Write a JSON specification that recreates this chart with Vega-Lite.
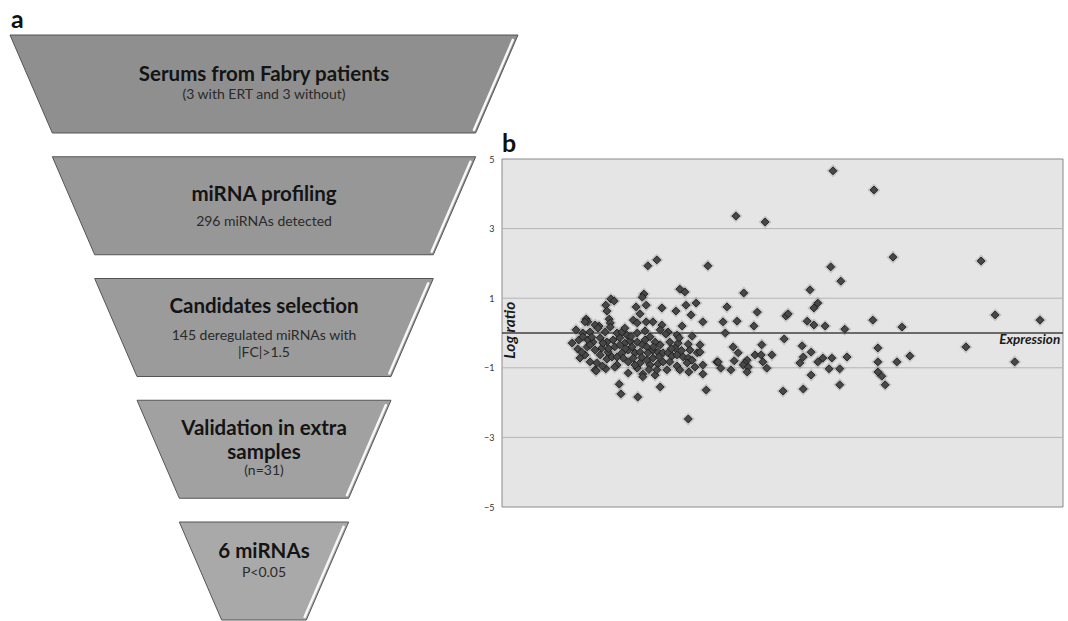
{
  "$schema": "https://vega.github.io/schema/vega-lite/v6.json",
  "width": 1068,
  "height": 621,
  "autosize": "none",
  "padding": 0,
  "background": "white",
  "config": {"view": {"stroke": null}, "font": "Lato"},
  "datasets": {
    "funnel": [
      {"stage": "Serums", "level": 0, "lo": -6, "hi": 6},
      {"stage": "Serums", "level": 0.805, "lo": -5, "hi": 5},
      {"stage": "Profiling", "level": 1, "lo": -5, "hi": 5},
      {"stage": "Profiling", "level": 1.805, "lo": -4, "hi": 4},
      {"stage": "Selection", "level": 2, "lo": -4, "hi": 4},
      {"stage": "Selection", "level": 2.805, "lo": -3, "hi": 3},
      {"stage": "Validation", "level": 3, "lo": -3, "hi": 3},
      {"stage": "Validation", "level": 3.805, "lo": -2, "hi": 2},
      {"stage": "Result", "level": 4, "lo": -2, "hi": 2},
      {"stage": "Result", "level": 4.805, "lo": -1, "hi": 1}
    ],
    "highlight": [
      {"stage": "Serums", "level": 0.04, "edge": 5.95},
      {"stage": "Serums", "level": 0.78, "edge": 5.03},
      {"stage": "Profiling", "level": 1.04, "edge": 4.95},
      {"stage": "Profiling", "level": 1.78, "edge": 4.03},
      {"stage": "Selection", "level": 2.04, "edge": 3.95},
      {"stage": "Selection", "level": 2.78, "edge": 3.03},
      {"stage": "Validation", "level": 3.04, "edge": 2.95},
      {"stage": "Validation", "level": 3.78, "edge": 2.03},
      {"stage": "Result", "level": 4.04, "edge": 1.95},
      {"stage": "Result", "level": 4.78, "edge": 1.03}
    ],
    "labels": [
      {"stage": "Serums", "level": 0.325, "text": "Serums from Fabry patients", "kind": "title"},
      {"stage": "Serums", "level": 0.493, "text": "(3 with ERT and 3 without)", "kind": "sub"},
      {"stage": "Profiling", "level": 1.318, "text": "miRNA profiling", "kind": "title"},
      {"stage": "Profiling", "level": 1.536, "text": "296 miRNAs detected", "kind": "sub"},
      {"stage": "Selection", "level": 2.238, "text": "Candidates selection", "kind": "title"},
      {"stage": "Selection", "level": 2.472, "text": "145 deregulated miRNAs with", "kind": "sub"},
      {"stage": "Selection", "level": 2.612, "text": "|FC|>1.5", "kind": "sub"},
      {"stage": "Validation", "level": 3.24, "text": "Validation in extra", "kind": "title"},
      {"stage": "Validation", "level": 3.432, "text": "samples", "kind": "title"},
      {"stage": "Validation", "level": 3.585, "text": "(n=31)", "kind": "sub"},
      {"stage": "Result", "level": 4.25, "text": "6 miRNAs", "kind": "title"},
      {"stage": "Result", "level": 4.415, "text": "P<0.05", "kind": "sub"}
    ],
    "grid": [{"ratio": 3}, {"ratio": 1}, {"ratio": -1}, {"ratio": -3}],
    "mirna": [
      {"expr": 59.0, "ratio": 4.66}, {"expr": 66.3, "ratio": 4.11}, {"expr": 41.7, "ratio": 3.36}, {"expr": 46.9, "ratio": 3.19},
      {"expr": 69.7, "ratio": 2.18}, {"expr": 85.4, "ratio": 2.07}, {"expr": 27.6, "ratio": 2.10}, {"expr": 26.0, "ratio": 1.93},
      {"expr": 36.7, "ratio": 1.93}, {"expr": 58.6, "ratio": 1.90}, {"expr": 60.4, "ratio": 1.49}, {"expr": 31.7, "ratio": 1.26},
      {"expr": 32.6, "ratio": 1.18}, {"expr": 54.9, "ratio": 1.24}, {"expr": 43.1, "ratio": 1.15}, {"expr": 25.3, "ratio": 1.12},
      {"expr": 25.0, "ratio": 1.03}, {"expr": 19.4, "ratio": 0.98}, {"expr": 20.0, "ratio": 0.92}, {"expr": 56.3, "ratio": 0.86},
      {"expr": 55.6, "ratio": 0.72}, {"expr": 34.6, "ratio": 0.86}, {"expr": 32.8, "ratio": 0.80}, {"expr": 25.7, "ratio": 0.80},
      {"expr": 18.5, "ratio": 0.80}, {"expr": 23.9, "ratio": 0.75}, {"expr": 28.5, "ratio": 0.72}, {"expr": 40.1, "ratio": 0.75},
      {"expr": 45.5, "ratio": 0.60}, {"expr": 31.0, "ratio": 0.63}, {"expr": 18.7, "ratio": 0.63}, {"expr": 24.6, "ratio": 0.55},
      {"expr": 33.7, "ratio": 0.52}, {"expr": 50.6, "ratio": 0.49}, {"expr": 51.0, "ratio": 0.55}, {"expr": 41.9, "ratio": 0.34},
      {"expr": 39.4, "ratio": 0.32}, {"expr": 35.8, "ratio": 0.32}, {"expr": 54.4, "ratio": 0.34}, {"expr": 87.9, "ratio": 0.52},
      {"expr": 95.9, "ratio": 0.37}, {"expr": 66.1, "ratio": 0.37}, {"expr": 15.0, "ratio": 0.40}, {"expr": 15.3, "ratio": 0.32},
      {"expr": 19.1, "ratio": 0.40}, {"expr": 23.4, "ratio": 0.37}, {"expr": 24.1, "ratio": 0.29}, {"expr": 25.7, "ratio": 0.32},
      {"expr": 26.9, "ratio": 0.32}, {"expr": 28.5, "ratio": 0.23}, {"expr": 32.1, "ratio": 0.20}, {"expr": 44.9, "ratio": 0.20},
      {"expr": 55.6, "ratio": 0.23}, {"expr": 57.6, "ratio": 0.20}, {"expr": 61.1, "ratio": 0.11}, {"expr": 71.3, "ratio": 0.17},
      {"expr": 13.2, "ratio": 0.09}, {"expr": 17.3, "ratio": 0.20}, {"expr": 19.3, "ratio": 0.29}, {"expr": 16.6, "ratio": 0.23},
      {"expr": 14.8, "ratio": 0.32},
      {"expr": 14.4, "ratio": 0.0}, {"expr": 15.7, "ratio": 0.03}, {"expr": 17.1, "ratio": 0.14}, {"expr": 18.4, "ratio": 0.03},
      {"expr": 19.3, "ratio": 0.17}, {"expr": 20.5, "ratio": 0.0}, {"expr": 21.4, "ratio": 0.03}, {"expr": 22.3, "ratio": -0.06},
      {"expr": 24.1, "ratio": 0.0}, {"expr": 25.5, "ratio": 0.06}, {"expr": 29.6, "ratio": 0.03}, {"expr": 29.2, "ratio": -0.03},
      {"expr": 31.2, "ratio": -0.06}, {"expr": 33.9, "ratio": -0.09}, {"expr": 12.5, "ratio": -0.29}, {"expr": 13.7, "ratio": -0.20},
      {"expr": 14.4, "ratio": -0.11}, {"expr": 15.3, "ratio": -0.20}, {"expr": 16.2, "ratio": -0.26}, {"expr": 17.5, "ratio": -0.14},
      {"expr": 18.7, "ratio": -0.26}, {"expr": 19.8, "ratio": -0.20}, {"expr": 21.0, "ratio": -0.14}, {"expr": 21.9, "ratio": -0.29},
      {"expr": 22.8, "ratio": -0.23}, {"expr": 24.1, "ratio": -0.26}, {"expr": 25.0, "ratio": -0.34}, {"expr": 25.8, "ratio": -0.40},
      {"expr": 27.3, "ratio": -0.26}, {"expr": 29.9, "ratio": -0.26}, {"expr": 31.4, "ratio": -0.29}, {"expr": 31.6, "ratio": -0.14},
      {"expr": 33.2, "ratio": -0.32}, {"expr": 26.9, "ratio": -0.49}, {"expr": 13.5, "ratio": -0.46}, {"expr": 15.2, "ratio": -0.40},
      {"expr": 16.6, "ratio": -0.49}, {"expr": 17.8, "ratio": -0.43}, {"expr": 18.9, "ratio": -0.55}, {"expr": 20.1, "ratio": -0.40},
      {"expr": 21.4, "ratio": -0.57}, {"expr": 22.5, "ratio": -0.49}, {"expr": 23.7, "ratio": -0.57}, {"expr": 24.6, "ratio": -0.55},
      {"expr": 26.0, "ratio": -0.57}, {"expr": 27.8, "ratio": -0.55}, {"expr": 28.7, "ratio": -0.57}, {"expr": 29.6, "ratio": -0.57},
      {"expr": 30.3, "ratio": -0.66}, {"expr": 31.2, "ratio": -0.63}, {"expr": 32.3, "ratio": -0.69}, {"expr": 33.2, "ratio": -0.72},
      {"expr": 34.8, "ratio": -0.57}, {"expr": 13.9, "ratio": -0.72}, {"expr": 15.7, "ratio": -0.83}, {"expr": 16.9, "ratio": -0.86},
      {"expr": 18.7, "ratio": -0.75}, {"expr": 20.5, "ratio": -0.92}, {"expr": 21.6, "ratio": -0.72}, {"expr": 22.5, "ratio": -0.83},
      {"expr": 23.4, "ratio": -0.72}, {"expr": 24.6, "ratio": -0.86}, {"expr": 25.8, "ratio": -0.78}, {"expr": 26.9, "ratio": -0.72},
      {"expr": 27.8, "ratio": -0.89}, {"expr": 28.7, "ratio": -0.83}, {"expr": 29.9, "ratio": -0.83}, {"expr": 31.2, "ratio": -0.95},
      {"expr": 33.0, "ratio": -0.86}, {"expr": 33.9, "ratio": -0.78}, {"expr": 34.4, "ratio": -0.98}, {"expr": 35.8, "ratio": -0.92},
      {"expr": 38.3, "ratio": -0.83}, {"expr": 16.6, "ratio": -1.06}, {"expr": 18.5, "ratio": -1.03}, {"expr": 20.1, "ratio": -0.98},
      {"expr": 22.5, "ratio": -1.15}, {"expr": 24.1, "ratio": -1.01}, {"expr": 25.1, "ratio": -1.18}, {"expr": 25.1, "ratio": -1.26},
      {"expr": 27.3, "ratio": -1.21}, {"expr": 27.6, "ratio": -1.06}, {"expr": 29.4, "ratio": -1.06}, {"expr": 31.7, "ratio": -1.06},
      {"expr": 33.3, "ratio": -1.12}, {"expr": 35.8, "ratio": -1.18}, {"expr": 20.9, "ratio": -1.47}, {"expr": 21.2, "ratio": -1.75},
      {"expr": 24.2, "ratio": -1.84}, {"expr": 28.2, "ratio": -1.55}, {"expr": 36.4, "ratio": -1.64}, {"expr": 33.2, "ratio": -2.47},
      {"expr": 16.8, "ratio": -1.09}, {"expr": 14.8, "ratio": -0.63}, {"expr": 17.5, "ratio": -0.63}, {"expr": 19.6, "ratio": -0.69},
      {"expr": 23.2, "ratio": -0.40}, {"expr": 25.5, "ratio": -0.20}, {"expr": 28.2, "ratio": -0.34}, {"expr": 30.8, "ratio": -0.43},
      {"expr": 15.7, "ratio": -0.34}, {"expr": 21.0, "ratio": -0.34}, {"expr": 26.4, "ratio": -0.92}, {"expr": 23.7, "ratio": -0.92},
      {"expr": 21.9, "ratio": 0.14}, {"expr": 18.0, "ratio": -0.29}, {"expr": 20.5, "ratio": -0.69}, {"expr": 28.2, "ratio": 0.09},
      {"expr": 26.4, "ratio": -0.11}, {"expr": 33.5, "ratio": -0.49}, {"expr": 35.3, "ratio": -0.34}, {"expr": 35.3, "ratio": -0.55},
      {"expr": 14.2, "ratio": -0.55}, {"expr": 16.0, "ratio": -0.12}, {"expr": 19.0, "ratio": -0.45}, {"expr": 22.0, "ratio": -0.45},
      {"expr": 23.0, "ratio": -0.10}, {"expr": 24.9, "ratio": -0.70}, {"expr": 27.0, "ratio": -0.40}, {"expr": 28.0, "ratio": -0.68},
      {"expr": 30.2, "ratio": -0.45}, {"expr": 32.0, "ratio": -0.50}, {"expr": 17.9, "ratio": -0.95}, {"expr": 26.2, "ratio": -1.05},
      {"expr": 39.8, "ratio": 0.0}, {"expr": 50.3, "ratio": -0.17}, {"expr": 53.5, "ratio": -0.37}, {"expr": 41.2, "ratio": -0.40},
      {"expr": 46.3, "ratio": -0.34}, {"expr": 42.1, "ratio": -0.57}, {"expr": 55.1, "ratio": -0.55}, {"expr": 45.1, "ratio": -0.63},
      {"expr": 46.2, "ratio": -0.63}, {"expr": 48.1, "ratio": -0.63}, {"expr": 53.7, "ratio": -0.69}, {"expr": 57.2, "ratio": -0.72},
      {"expr": 58.8, "ratio": -0.72}, {"expr": 61.5, "ratio": -0.69}, {"expr": 67.0, "ratio": -0.43}, {"expr": 38.5, "ratio": -0.83},
      {"expr": 41.4, "ratio": -0.80}, {"expr": 43.7, "ratio": -0.78}, {"expr": 43.3, "ratio": -0.86}, {"expr": 43.0, "ratio": -0.92},
      {"expr": 43.9, "ratio": -0.98}, {"expr": 46.5, "ratio": -0.83}, {"expr": 53.1, "ratio": -0.86}, {"expr": 56.3, "ratio": -0.83},
      {"expr": 39.0, "ratio": -1.01}, {"expr": 40.8, "ratio": -1.06}, {"expr": 43.7, "ratio": -1.12}, {"expr": 47.2, "ratio": -1.01},
      {"expr": 58.3, "ratio": -1.03}, {"expr": 60.2, "ratio": -1.03}, {"expr": 67.0, "ratio": -1.12}, {"expr": 55.1, "ratio": -1.21},
      {"expr": 60.2, "ratio": -1.49}, {"expr": 50.1, "ratio": -1.67}, {"expr": 53.7, "ratio": -1.61}, {"expr": 67.0, "ratio": -0.83},
      {"expr": 68.3, "ratio": -1.49}, {"expr": 67.7, "ratio": -1.24}, {"expr": 70.4, "ratio": -0.83}, {"expr": 72.7, "ratio": -0.66},
      {"expr": 82.7, "ratio": -0.40}, {"expr": 91.4, "ratio": -0.83}
    ]
  },
  "layer": [
    {
      "layer": [
        {
          "data": {"name": "funnel"},
          "mark": {"type": "area", "orient": "horizontal", "stroke": "#555555", "strokeWidth": 1, "opacity": 1},
          "encoding": {
            "y": {"field": "level", "type": "quantitative", "scale": {"domain": [0, 5], "range": [35, 643.75], "nice": false, "zero": false}, "axis": null},
            "x": {"field": "lo", "type": "quantitative", "scale": {"domain": [-6, 6], "range": [10, 518], "nice": false, "zero": false}, "axis": null},
            "x2": {"field": "hi"},
            "detail": {"field": "stage"},
            "color": {"field": "stage", "type": "nominal", "scale": {"domain": ["Serums", "Profiling", "Selection", "Validation", "Result"], "range": ["#8f8f8f", "#979797", "#9b9b9b", "#a1a1a1", "#a9a9a9"]}, "legend": null}
          }
        },
        {
          "data": {"name": "highlight"},
          "mark": {"type": "line", "color": "#f7f7f7", "strokeWidth": 2.5, "strokeCap": "round", "xOffset": -3},
          "encoding": {
            "y": {"field": "level", "type": "quantitative", "axis": null},
            "x": {"field": "edge", "type": "quantitative", "axis": null},
            "detail": {"field": "stage"}
          }
        },
        {
          "data": {"name": "labels"},
          "transform": [{"filter": "datum.kind === 'title'"}],
          "mark": {"type": "text", "font": "Lato", "fontWeight": "bold", "fontSize": 20.5, "color": "#141414", "align": "center", "baseline": "middle"},
          "encoding": {
            "y": {"field": "level", "type": "quantitative", "axis": null},
            "x": {"datum": 0, "type": "quantitative", "axis": null},
            "text": {"field": "text"}
          }
        },
        {
          "data": {"name": "labels"},
          "transform": [{"filter": "datum.kind === 'sub'"}],
          "mark": {"type": "text", "font": "Lato", "fontSize": 14, "color": "#2a2a2a", "align": "center", "baseline": "middle"},
          "encoding": {
            "y": {"field": "level", "type": "quantitative", "axis": null},
            "x": {"datum": 0, "type": "quantitative", "axis": null},
            "text": {"field": "text"}
          }
        },
        {
          "data": {"values": [{"panel": "a"}]},
          "mark": {"type": "text", "font": "Lato", "fontWeight": "bold", "fontSize": 25, "color": "#111111", "align": "left", "baseline": "alphabetic", "dx": 1, "dy": -7},
          "encoding": {
            "y": {"datum": 0, "type": "quantitative", "axis": null},
            "x": {"datum": -6, "type": "quantitative", "axis": null},
            "text": {"field": "panel"}
          }
        }
      ]
    },
    {
      "layer": [
        {
          "data": {"values": [{"box": "plot"}]},
          "mark": {"type": "rect", "fill": "#e5e5e5", "stroke": "#8a8a8a", "strokeWidth": 1},
          "encoding": {
            "x": {"datum": 0, "type": "quantitative", "scale": {"domain": [0, 100], "range": [502, 1063], "nice": false, "zero": false}, "axis": null},
            "x2": {"datum": 100},
            "y": {"datum": -5, "type": "quantitative", "scale": {"domain": [-5, 5], "range": [507, 159], "nice": false, "zero": false}, "title": null, "axis": {"values": [-5, -3, -1, 1, 3, 5], "grid": false, "domain": false, "ticks": false, "offset": -497, "labelPadding": 3, "labelFont": "Lato", "labelFontSize": 9, "labelColor": "#333333", "labelOverlap": false, "title": null}},
            "y2": {"datum": 5}
          }
        },
        {
          "data": {"name": "grid"},
          "mark": {"type": "rule", "color": "#b4b4b4", "strokeWidth": 1},
          "encoding": {
            "y": {"field": "ratio", "type": "quantitative", "title": null, "axis": {"values": [-5, -3, -1, 1, 3, 5], "grid": false, "domain": false, "ticks": false, "offset": -497, "labelPadding": 3, "labelFont": "Lato", "labelFontSize": 9, "labelColor": "#333333", "labelOverlap": false, "title": null}},
            "x": {"datum": 0, "type": "quantitative", "axis": null},
            "x2": {"datum": 100}
          }
        },
        {
          "data": {"values": [{"ratio": 0}]},
          "mark": {"type": "rule", "color": "#404040", "strokeWidth": 1.5},
          "encoding": {
            "y": {"field": "ratio", "type": "quantitative", "title": null, "axis": {"values": [-5, -3, -1, 1, 3, 5], "grid": false, "domain": false, "ticks": false, "offset": -497, "labelPadding": 3, "labelFont": "Lato", "labelFontSize": 9, "labelColor": "#333333", "labelOverlap": false, "title": null}},
            "x": {"datum": 0, "type": "quantitative", "axis": null},
            "x2": {"datum": 100}
          }
        },
        {
          "data": {"name": "mirna"},
          "mark": {"type": "point", "shape": "diamond", "filled": true, "size": 170, "color": "#707070", "opacity": 0.28},
          "encoding": {
            "x": {"field": "expr", "type": "quantitative", "axis": null},
            "y": {"field": "ratio", "type": "quantitative", "title": null, "axis": {"values": [-5, -3, -1, 1, 3, 5], "grid": false, "domain": false, "ticks": false, "offset": -497, "labelPadding": 3, "labelFont": "Lato", "labelFontSize": 9, "labelColor": "#333333", "labelOverlap": false, "title": null}}
          }
        },
        {
          "data": {"name": "mirna"},
          "mark": {"type": "point", "shape": "diamond", "filled": true, "size": 62, "fill": "#474747", "stroke": "#1c1c1c", "strokeWidth": 0.9, "opacity": 1},
          "encoding": {
            "x": {"field": "expr", "type": "quantitative", "axis": null},
            "y": {"field": "ratio", "type": "quantitative", "title": null, "axis": {"values": [-5, -3, -1, 1, 3, 5], "grid": false, "domain": false, "ticks": false, "offset": -497, "labelPadding": 3, "labelFont": "Lato", "labelFontSize": 9, "labelColor": "#333333", "labelOverlap": false, "title": null}}
          }
        },
        {
          "data": {"values": [{"panel": "b"}]},
          "mark": {"type": "text", "font": "Lato", "fontWeight": "bold", "fontSize": 25, "color": "#111111", "align": "left", "baseline": "alphabetic", "dx": 0, "dy": -7},
          "encoding": {
            "x": {"datum": 0, "type": "quantitative", "axis": null},
            "y": {"datum": 5, "type": "quantitative", "title": null, "axis": {"values": [-5, -3, -1, 1, 3, 5], "grid": false, "domain": false, "ticks": false, "offset": -497, "labelPadding": 3, "labelFont": "Lato", "labelFontSize": 9, "labelColor": "#333333", "labelOverlap": false, "title": null}},
            "text": {"field": "panel"}
          }
        },
        {
          "data": {"values": [{"label": "Log ratio"}]},
          "mark": {"type": "text", "font": "Lato", "fontWeight": "bold", "fontStyle": "italic", "fontSize": 15.5, "color": "#1a1a1a", "align": "center", "baseline": "middle", "angle": 270},
          "encoding": {
            "x": {"datum": 1.5, "type": "quantitative", "axis": null},
            "y": {"datum": 0.08, "type": "quantitative", "title": null, "axis": {"values": [-5, -3, -1, 1, 3, 5], "grid": false, "domain": false, "ticks": false, "offset": -497, "labelPadding": 3, "labelFont": "Lato", "labelFontSize": 9, "labelColor": "#333333", "labelOverlap": false, "title": null}},
            "text": {"field": "label"}
          }
        },
        {
          "data": {"values": [{"label": "Expression"}]},
          "mark": {"type": "text", "font": "Lato", "fontWeight": "bold", "fontStyle": "italic", "fontSize": 13.5, "color": "#1a1a1a", "align": "right", "baseline": "middle"},
          "encoding": {
            "x": {"datum": 99.5, "type": "quantitative", "axis": null},
            "y": {"datum": -0.2, "type": "quantitative", "title": null, "axis": {"values": [-5, -3, -1, 1, 3, 5], "grid": false, "domain": false, "ticks": false, "offset": -497, "labelPadding": 3, "labelFont": "Lato", "labelFontSize": 9, "labelColor": "#333333", "labelOverlap": false, "title": null}},
            "text": {"field": "label"}
          }
        }
      ]
    }
  ],
  "resolve": {
    "scale": {"x": "independent", "y": "independent", "color": "independent"},
    "axis": {"x": "independent", "y": "independent"}
  }
}
